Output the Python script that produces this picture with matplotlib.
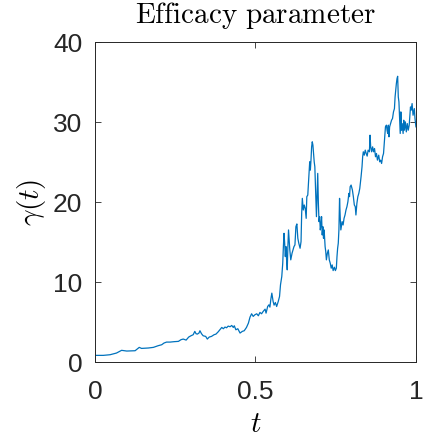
import matplotlib
matplotlib.use("Agg")
import matplotlib.pyplot as plt

# values
t_vals = [0.000, 0.026, 0.047, 0.067, 0.083, 0.099, 0.125, 0.138, 0.145, 0.166,
          0.182, 0.197, 0.208, 0.215, 0.223, 0.234, 0.246, 0.260, 0.268, 0.275,
          0.284, 0.292, 0.299, 0.306, 0.311, 0.315, 0.319, 0.324, 0.327, 0.332,
          0.337, 0.345, 0.350, 0.356, 0.363, 0.371, 0.377, 0.384, 0.389, 0.395,
          0.400, 0.405, 0.410, 0.415, 0.421, 0.426, 0.431, 0.434, 0.439, 0.445,
          0.452, 0.459, 0.465, 0.472, 0.478, 0.483, 0.488, 0.493, 0.498, 0.504,
          0.509, 0.514, 0.519, 0.524, 0.530, 0.533, 0.538, 0.542, 0.545, 0.548,
          0.551, 0.555, 0.558, 0.562, 0.566, 0.571, 0.575, 0.578, 0.582, 0.585,
          0.587, 0.589, 0.591, 0.593, 0.595, 0.597, 0.599, 0.601, 0.603, 0.605,
          0.607, 0.610, 0.614, 0.617, 0.620, 0.623, 0.626, 0.629, 0.632, 0.635,
          0.639, 0.642, 0.644, 0.646, 0.649, 0.652, 0.655, 0.658, 0.660, 0.663,
          0.665, 0.667, 0.669, 0.671, 0.673, 0.675, 0.677, 0.679, 0.681, 0.683,
          0.685, 0.687, 0.690, 0.692, 0.694, 0.696, 0.698, 0.700, 0.702, 0.704,
          0.706, 0.708, 0.710, 0.712, 0.714, 0.717, 0.719, 0.721, 0.724, 0.727,
          0.730, 0.733, 0.736, 0.739, 0.742, 0.746, 0.749, 0.752, 0.754, 0.756,
          0.758, 0.760, 0.762, 0.764, 0.766, 0.770, 0.773, 0.776, 0.779, 0.782,
          0.785, 0.788, 0.791, 0.793, 0.795, 0.798, 0.802, 0.805, 0.808, 0.811,
          0.813, 0.816, 0.819, 0.822, 0.825, 0.829, 0.832, 0.834, 0.836, 0.839,
          0.842, 0.845, 0.848, 0.851, 0.855, 0.857, 0.859, 0.862, 0.865, 0.868,
          0.871, 0.874, 0.877, 0.880, 0.884, 0.887, 0.890, 0.893, 0.896, 0.899,
          0.902, 0.905, 0.908, 0.910, 0.912, 0.914, 0.916, 0.918, 0.921, 0.924,
          0.927, 0.930, 0.933, 0.935, 0.937, 0.939, 0.941, 0.943, 0.945, 0.947,
          0.949, 0.951, 0.953, 0.955, 0.957, 0.960, 0.962, 0.964, 0.967, 0.970,
          0.973, 0.976, 0.979, 0.983, 0.985, 0.988, 0.991, 0.995, 0.997, 1.000]

gamma_vals = [0.83, 0.83, 0.91, 1.12, 1.46, 1.37, 1.41, 1.83, 1.70, 1.75,
              1.83, 2.04, 2.16, 2.37, 2.49, 2.49, 2.54, 2.58, 2.79, 2.87,
              2.74, 3.12, 3.28, 3.41, 3.83, 3.53, 3.49, 3.62, 3.91, 3.53,
              3.28, 3.20, 2.87, 3.12, 3.20, 3.41, 3.49, 3.78, 4.03, 4.32,
              4.16, 4.37, 4.28, 4.49, 4.41, 4.57, 4.32, 4.53, 4.03, 4.16,
              3.62, 3.83, 3.91, 4.32, 4.86, 5.61, 6.03, 5.70, 5.90, 6.03,
              5.78, 6.20, 6.03, 6.32, 6.61, 6.11, 6.94, 7.15, 6.86, 7.86,
              8.61, 7.57, 7.11, 7.44, 6.94, 7.57, 8.19, 9.65, 10.69, 12.35,
              14.43, 16.09, 14.85, 13.18, 14.43, 12.77, 11.52, 14.43, 16.51, 15.26,
              14.01, 12.77, 13.60, 14.01, 14.43, 14.64, 16.92, 17.26, 15.47, 14.85,
              14.22, 15.05, 18.59, 20.46, 19.00, 19.63, 19.21, 17.96, 20.67, 20.87,
              22.33, 23.58, 25.03, 23.99, 25.24, 26.90, 27.53, 27.11, 26.07, 25.03,
              24.41, 21.91, 18.17, 20.67, 23.58, 19.83, 17.55, 18.17, 16.51, 17.13,
              18.17, 15.88, 16.92, 15.47, 16.51, 14.43, 13.80, 12.77, 13.60, 14.01,
              12.77, 12.35, 11.73, 12.14, 11.43, 11.85, 11.43, 11.73, 13.18, 14.22,
              14.85, 16.51, 20.46, 18.17, 16.51, 17.55, 17.13, 17.96, 18.38, 19.00,
              19.42, 20.04, 21.08, 20.67, 21.91, 22.12, 21.50, 20.67, 19.63, 19.42,
              18.38, 19.83, 20.67, 21.08, 21.70, 23.16, 24.41, 25.66, 26.28, 25.86,
              26.49, 26.07, 25.74, 26.49, 26.28, 28.36, 26.90, 26.28, 26.90, 26.28,
              26.69, 25.66, 26.07, 25.24, 25.86, 25.03, 25.24, 24.82, 25.66, 26.07,
              27.73, 29.40, 29.61, 28.98, 28.57, 29.61, 28.15, 29.40, 29.81, 30.23,
              30.44, 31.27, 31.68, 33.14, 33.97, 34.80, 35.43, 35.72, 33.14, 32.52,
              30.65, 28.57, 31.27, 28.98, 29.81, 28.57, 30.23, 28.98, 30.02, 28.77,
              29.81, 28.98, 29.61, 31.89, 31.48, 32.31, 30.85, 31.68, 30.44, 29.40]

x_ticks = [0, 0.5, 1]
x_ticklabels = ["0", "0.5", "1"]
y_ticks = [0, 10, 20, 30, 40]

plt.rcParams["font.family"] = ["Liberation Sans", "DejaVu Sans"]
plt.rcParams["mathtext.fontset"] = "cm"

fig = plt.figure(figsize=(4.24, 4.38), dpi=100)
ax = fig.add_axes([0.224, 0.1735, 0.757, 0.7305])

ax.plot(t_vals, gamma_vals, color="#0072BD", linewidth=0.9)

ax.set_xlim(0, 1)
ax.set_ylim(0, 40)
ax.set_xticks(x_ticks)
ax.set_xticklabels(x_ticklabels)
ax.set_yticks(y_ticks)

ax.tick_params(direction="in", top=True, right=True, length=4, width=0.6,
               labelsize=19, colors="#262626")
ax.tick_params(axis="x", pad=13)
ax.tick_params(axis="y", pad=9)
for s in ax.spines.values():
    s.set_color("#262626")
    s.set_linewidth(0.7)

ax.set_title(r"$\mathrm{Efficacy\ parameter}$", fontsize=21, color="black", pad=14)
ax.set_xlabel(r"$t$", fontsize=21, labelpad=4)
ax.set_ylabel(r"$\gamma(t)$", fontsize=21, labelpad=4)

fig.savefig("out.png", dpi=100)
